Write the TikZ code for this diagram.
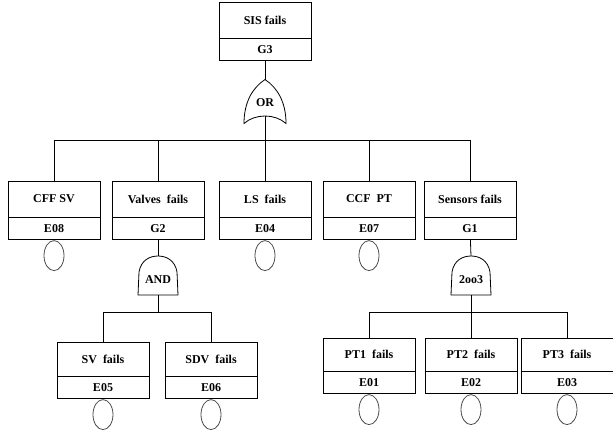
\documentclass[tikz,border=0pt]{standalone}
\usepackage{fontspec}
\setmainfont{Liberation Serif}
\usetikzlibrary{positioning,shapes.geometric}
\tikzset{
  orgate/.pic={
    \draw[pic actions] (0,22) .. controls (-12,14) and (-21,0) .. (-21,-22)
      .. controls (-10,-12) and (10,-12) .. (21,-22)
      .. controls (21,0) and (12,14) .. (0,22);
    \node (-txt) at (0,-1) {#1};
    \coordinate (-in) at (0,22);
    \coordinate (-out) at (0,-14.5);
  },
  andgate/.pic={
    \draw[pic actions] (-20,-19) -- (-19,4) .. controls (-17,16) and (-8,20) .. (0,20)
      .. controls (8,20) and (17,16) .. (19,4) -- (20,-19) -- cycle;
    \node (-txt) at (0,-4) {#1};
    \coordinate (-in) at (0,20);
    \coordinate (-out) at (0,-19);
  }
}
\begin{document}
\begin{tikzpicture}[x=1pt,y=1pt,line width=0.8pt,
    every node/.style={font=\fontsize{12}{14}\selectfont\bfseries},
    namebox/.style={draw,minimum width=92pt,minimum height=36pt,inner sep=0pt},
    idbox/.style={draw,minimum width=92pt,minimum height=22pt,inner sep=0pt,anchor=north},
    basic/.style={draw=black!70,ellipse,minimum width=20pt,minimum height=30pt,inner sep=0pt,anchor=north}]
  \useasboundingbox (0,0) rectangle (613,-432);
  % top event
  \node[namebox] (g3) at (265,-20) {SIS fails};
  \node[idbox] (g3id) at (g3.south) {G3};
  \pic (or) at (265,-101.5) {orgate=OR};
  \coordinate (bus1) at (265,-140);
  \draw (g3id) -- (or-in);
  \draw (or-out) -- (bus1);
  % second level
  \foreach \x/\n/\t/\i in {54/e08/CFF SV/E08,158/g2/Valves~ fails/G2,265/e04/LS~ fails/E04,369/e07/CCF~ PT/E07,470/g1/Sensors fails/G1}
  {
    \node[namebox] (\n) at (\x,-199) {\t};
    \node[idbox] (\n id) at (\n.south) {\i};
    \draw (\n.north) |- (bus1);
  }
  \foreach \n in {e08,e04,e07} \node[basic] (\n c) at (\n id.south) {};
  % valves
  \pic (and) at (158,-276) {andgate=AND};
  \coordinate (bus2) at (158,-312);
  \draw (g2id) -- (and-in);
  \draw (and-out) -- (bus2);
  \foreach \x/\n/\t/\i in {103/e05/SV~ fails/E05,211/e06/SDV~ fails/E06}
  {
    \node[namebox,minimum height=34pt] (\n) at (\x,-359) {\t};
    \node[idbox] (\n id) at (\n.south) {\i};
    \node[basic] (\n c) at (\n id.south) {};
    \draw (\n.north) |- (bus2);
  }
  % sensors
  \pic (vote) at (471,-276) {andgate=2oo3};
  \coordinate (bus3) at (471,-312);
  \draw (g1id) -- (vote-in);
  \draw (vote-out) -- (bus3);
  \foreach \x/\n/\t/\i in {369/e01/PT1~ fails/E01,471/e02/PT2~ fails/E02,567/e03/PT3~ fails/E03}
  {
    \node[namebox,minimum height=33pt] (\n) at (\x,-354.5) {\t};
    \node[idbox] (\n id) at (\n.south) {\i};
    \node[basic] (\n c) at (\n id.south) {};
    \draw (\n.north) |- (bus3);
  }
\end{tikzpicture}
\end{document}
